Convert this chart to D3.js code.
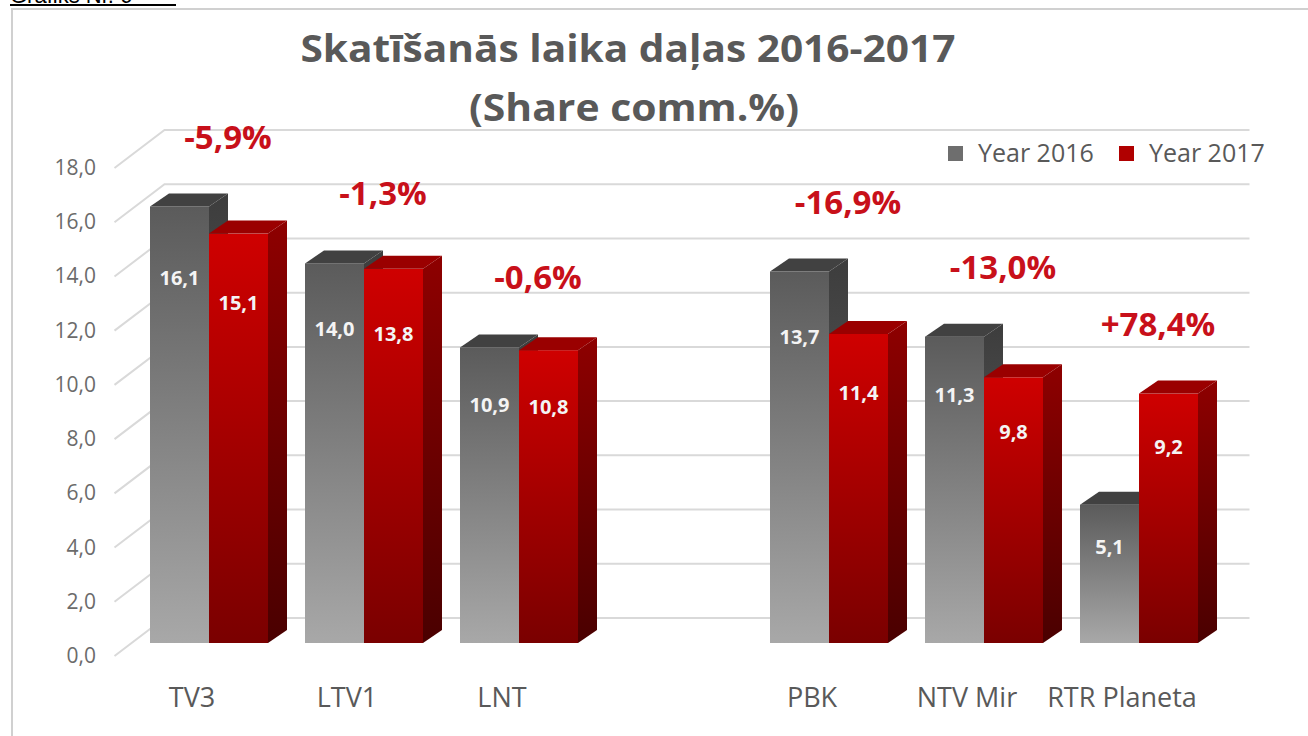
<!DOCTYPE html>
<html>
<head>
<meta charset="utf-8">
<script src="https://cdn.jsdelivr.net/npm/d3@7"></script>
<style>
  body { margin: 0; background: #fff; }
  text { font-family: "Open Sans", sans-serif; }
</style>
</head>
<body>
<script>
// data
var channels = ["TV3", "LTV1", "LNT", "PBK", "NTV Mir", "RTR Planeta"];
var values2016 = [16.1, 14.0, 10.9, 13.7, 11.3, 5.1];
var values2017 = [15.1, 13.8, 10.8, 11.4, 9.8, 9.2];
var changes = ["-5,9%", "-1,3%", "-0,6%", "-16,9%", "-13,0%", "+78,4%"];
var years = ["Year 2016", "Year 2017"];
var yTicks = [0, 2, 4, 6, 8, 10, 12, 14, 16, 18];

var width = 1308,
    height = 736;

// slots on the x axis: the gap between the two groups is an empty slot
var slots = channels.slice(0, 3).concat(["_gap"], channels.slice(3));

var x = d3.scaleBand().domain(slots).range([114.5, 1199.5]);
var xYear = d3.scaleBand().domain(years).range([18.5, 136.5]);
var y = d3.scaleLinear().domain([0, 18]).range([656, 168]);

// oblique depth offsets
var wall = {dx: 50, dy: -38},   // floor front -> back wall
    front = {dx: 17, dy: -13},  // floor front -> bar front
    deep = {dx: 19, dy: -13};   // bar front -> bar back

var fmt = function(v){ return d3.format(".1f")(v).replace(".", ","); };

var svg = d3.select("body")
            .append("svg")
            .attr("width", width)
            .attr("height", height);

var defs = svg.append("defs");
function grad(id, c1, c2){
  var g = defs.append("linearGradient").attr("id", id)
              .attr("x1", 0).attr("y1", 0).attr("x2", 0).attr("y2", 1);
  g.append("stop").attr("offset", "0%").attr("stop-color", c1);
  g.append("stop").attr("offset", "100%").attr("stop-color", c2);
}
grad("g16front", "#5b5b5b", "#a8a8a8");
grad("g16side", "#3d3d3d", "#6a6a6a");
grad("g17front", "#cf0000", "#7a0000");
grad("g17side", "#8e0000", "#4a0000");

var faces = {
  "Year 2016": {front: "url(#g16front)", side: "url(#g16side)", top: "#414141"},
  "Year 2017": {front: "url(#g17front)", side: "url(#g17side)", top: "#9a0000"}
};

// frame and the caption that is cut off at the top edge
svg.append("text")
   .attr("x", 10).attr("y", 3)
   .style("font-family", "'Liberation Sans', Arial, sans-serif")
   .style("font-size", "22px")
   .attr("fill", "#000")
   .text("Grafiks Nr. 6");
svg.append("line")
   .attr("x1", 10).attr("x2", 176).attr("y1", 5).attr("y2", 5)
   .attr("stroke", "#000").attr("stroke-width", 2);
svg.append("path")
   .attr("d", "M12,736V9H1308")
   .attr("fill", "none")
   .attr("stroke", "#d0d0d0")
   .attr("stroke-width", 2);

// title
var title = svg.append("g").attr("fill", "#595959")
               .style("font-weight", "bold")
               .attr("text-anchor", "middle");
title.append("text")
     .attr("x", 628).attr("y", 62)
     .style("font-size", "37px")
     .attr("textLength", 655)
     .attr("lengthAdjust", "spacingAndGlyphs")
     .text("Skatīšanās laika daļas 2016-2017");
title.append("text")
     .attr("x", 634).attr("y", 121)
     .style("font-size", "37px")
     .attr("textLength", 330)
     .attr("lengthAdjust", "spacingAndGlyphs")
     .text("(Share comm.%)");

// gridlines: left side wall + back wall
var x0 = x.range()[0], x1 = x.range()[1];
svg.append("g")
   .selectAll("path")
   .data(yTicks)
   .enter()
   .append("path")
   .attr("d", function(t){
     var yy = y(t);
     return "M" + x0 + "," + yy + "L" + (x0 + wall.dx) + "," + (yy + wall.dy) +
            "L" + (x1 + wall.dx) + "," + (yy + wall.dy);
   })
   .attr("fill", "none")
   .attr("stroke", "#d9d9d9")
   .attr("stroke-width", 2);

// y tick labels
svg.append("g")
   .selectAll("text")
   .data(yTicks)
   .enter()
   .append("text")
   .attr("x", 96)
   .attr("y", function(t){ return y(t) + 7; })
   .attr("text-anchor", "end")
   .attr("fill", "#6b6b6b")
   .style("font-size", "21px")
   .text(fmt);

// bars
var rows = channels.map(function(c, i){
  return {channel: c, values: [
    {year: years[0], value: values2016[i]},
    {year: years[1], value: values2017[i]}
  ]};
});

var groups = svg.append("g")
   .selectAll("g")
   .data(rows)
   .enter()
   .append("g")
   .attr("transform", function(d){ return "translate(" + (x(d.channel) + front.dx) + "," + front.dy + ")"; });

var bars = groups.selectAll("g")
   .data(function(d){ return d.values; })
   .enter()
   .append("g");

bars.each(function(d){
  var g = d3.select(this),
      xf = xYear(d.year),
      w = xYear.bandwidth(),
      yt = y(d.value),
      yb = y(0),
      f = faces[d.year];
  g.append("rect")
   .attr("x", xf).attr("y", yt)
   .attr("width", w).attr("height", yb - yt)
   .attr("fill", f.front);
  g.append("path")
   .attr("d", "M" + xf + "," + yt + "l" + deep.dx + "," + deep.dy + "h" + w +
              "l" + (-deep.dx) + "," + (-deep.dy) + "Z")
   .attr("fill", f.top);
  g.append("path")
   .attr("d", "M" + (xf + w) + "," + yt + "l" + deep.dx + "," + deep.dy +
              "V" + (yb + deep.dy) + "l" + (-deep.dx) + "," + (-deep.dy) + "Z")
   .attr("fill", f.side);
  g.append("text")
   .attr("x", xf + w / 2)
   .attr("y", y(d.value * 0.9) + 35)
   .attr("text-anchor", "middle")
   .attr("fill", "#f4f4f4")
   .style("font-size", "20px")
   .style("font-weight", "bold")
   .text(fmt(d.value));
});

// change annotations above each pair
groups.append("text")
   .attr("x", x.bandwidth() / 2 + 19)
   .attr("y", function(d){ return y(d3.max(d.values, function(v){ return v.value; })) - 58; })
   .attr("text-anchor", "middle")
   .attr("fill", "#c8101a")
   .style("font-size", "33px")
   .style("font-weight", "bold")
   .text(function(d, i){ return changes[i]; });

// category labels on the front edge
svg.append("g")
   .selectAll("text")
   .data(channels)
   .enter()
   .append("text")
   .attr("x", function(c){ return x(c) + x.bandwidth() / 2; })
   .attr("y", 707)
   .attr("text-anchor", "middle")
   .attr("fill", "#595959")
   .style("font-size", "27px")
   .text(function(c){ return c; });

// legend
var legend = svg.append("g")
   .selectAll("g")
   .data(years)
   .enter()
   .append("g")
   .attr("transform", function(d, i){ return "translate(" + (948 + i * 171) + ",146)"; });
legend.append("rect")
   .attr("width", 15).attr("height", 15)
   .attr("fill", function(d){ return d === years[0] ? "#6e6e6e" : "#b00000"; });
legend.append("text")
   .attr("x", 30).attr("y", 16)
   .attr("fill", "#595959")
   .style("font-size", "25px")
   .text(function(d){ return d; });
</script>
</body>
</html>
